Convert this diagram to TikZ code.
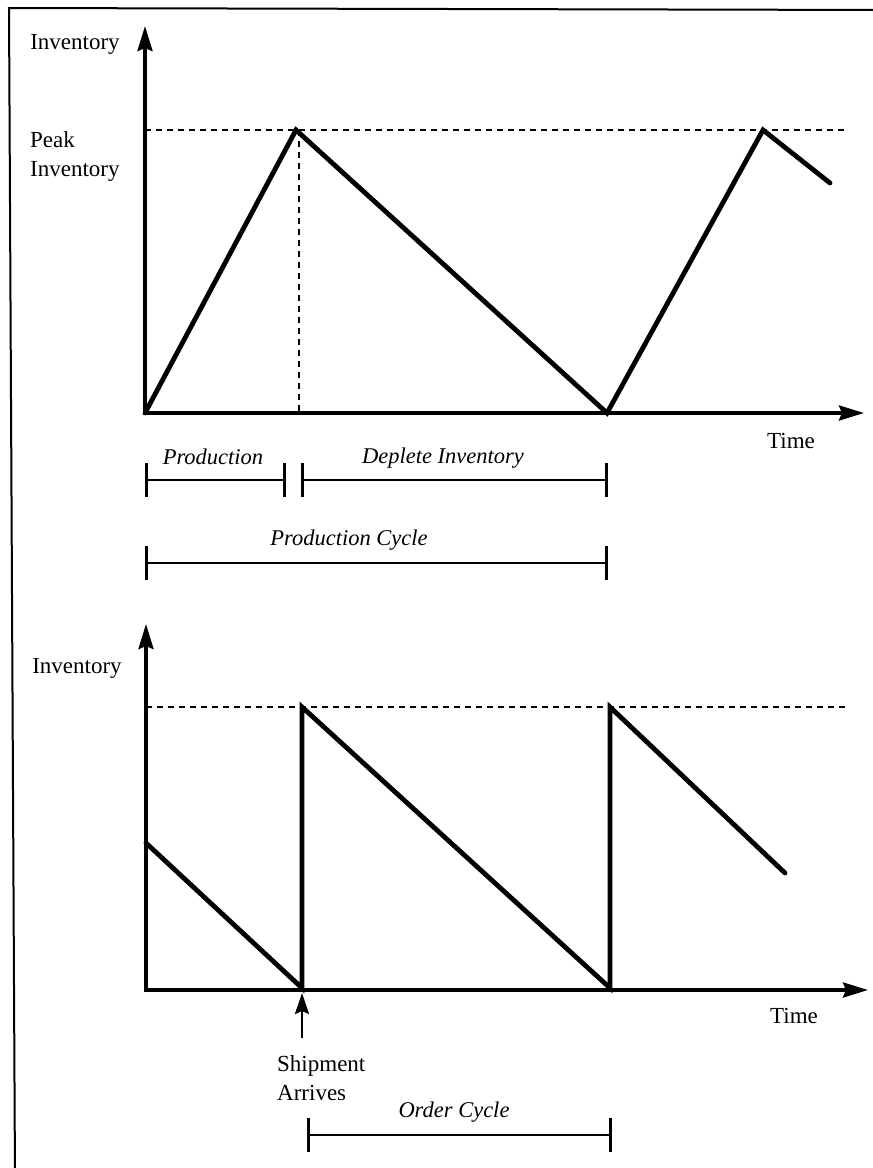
\documentclass[tikz,border=0pt]{standalone}
\usepackage{fontspec}
\setmainfont{Liberation Serif}
\usetikzlibrary{arrows.meta}
\begin{document}
\begin{tikzpicture}[x=1pt,y=-1pt,
  axis/.style={line width=3.6pt,-{Stealth[length=25pt,width=15pt,inset=3pt]}},
  saw/.style={line width=4.8pt,line cap=round},
  guide/.style={line width=1.3pt,dash pattern=on 6pt off 5pt},
  span/.style={line width=2.6pt,{Bar[width=34pt]}-{Bar[width=34pt]}},
  lbl/.style={inner sep=0pt,font=\fontsize{23}{29}\selectfont},
  ilbl/.style={lbl,font=\fontsize{22.5}{29}\selectfont\itshape},
  frame/.style={line width=2pt}]
\useasboundingbox (0,0) rectangle (873,1168);

% page frame
\draw[frame] (15,1180) -- (9,8) -- (890,10);

% ---------- production model ----------
\coordinate (o1) at (145,413);
\coordinate (yt1) at (145,26);
\coordinate (xt1) at (864,413);
\coordinate (p1) at (296,130);
\coordinate (z1) at (607,413);
\coordinate (p2) at (763,130);
\coordinate (e1) at (830,183);
\coordinate (pl) at (145,130);
\coordinate (pr) at (848,130);
\coordinate (pv) at (299,130);
\coordinate (pb) at (299,413);

\draw[guide] (pl) -- (pr);
\draw[guide] (pv) -- (pb);
\draw[axis] (143,413) -- (xt1);
\draw[axis] (145,415) -- (yt1);
\draw[saw] (o1) -- (p1) -- (z1) -- (p2) -- (e1);

\node[lbl] (inv1) at (75,44) {Inventory};
\node[lbl,anchor=west,align=left] (peak) at (30,156) {Peak\\Inventory};
\node[lbl] (time1) at (791,441) {Time};

\coordinate (pa) at (145,480);
\coordinate (pb2) at (286,480);
\coordinate (da) at (301,480);
\coordinate (db) at (608,480);
\coordinate (ca) at (145,563);
\coordinate (cb) at (608,563);
\draw[span] (pa) -- (pb2);
\draw[span] (da) -- (db);
\draw[span] (ca) -- (cb);
\node[ilbl] (prod) at (213,457) {Production};
\node[ilbl] (depl) at (443,458) {Deplete Inventory};
\node[ilbl] (pcyc) at (349,540) {Production Cycle};

% ---------- order model ----------
\coordinate (o2) at (146,990);
\coordinate (yt2) at (146,624);
\coordinate (xt2) at (868,990);
\coordinate (s0) at (146,843);
\coordinate (s1) at (302,988);
\coordinate (s2) at (302,707);
\coordinate (s3) at (610,988);
\coordinate (s4) at (610,707);
\coordinate (s5) at (785,873);
\coordinate (ql) at (146,707);
\coordinate (qr) at (848,707);

\draw[guide] (ql) -- (qr);
\draw[axis] (144,990) -- (xt2);
\draw[axis] (146,992) -- (yt2);
\draw[saw] (s0) -- (s1) -- (s2) -- (s3) -- (s4) -- (s5);

\node[lbl] (inv2) at (77,668) {Inventory};
\node[lbl] (time2) at (794,1016) {Time};

\coordinate (shipfoot) at (302,1038);
\coordinate (shiptip) at (302,993);
\draw[line width=2.6pt,-{Stealth[length=21pt,width=14pt,inset=3pt]}] (shipfoot) -- (shiptip);
\node[lbl,anchor=west,align=left] (ship) at (277,1078) {Shipment\\Arrives};

\coordinate (oa) at (307,1135);
\coordinate (ob) at (612,1135);
\draw[span] (oa) -- (ob);
\node[ilbl] (ocyc) at (454,1112) {Order Cycle};
\end{tikzpicture}
\end{document}
